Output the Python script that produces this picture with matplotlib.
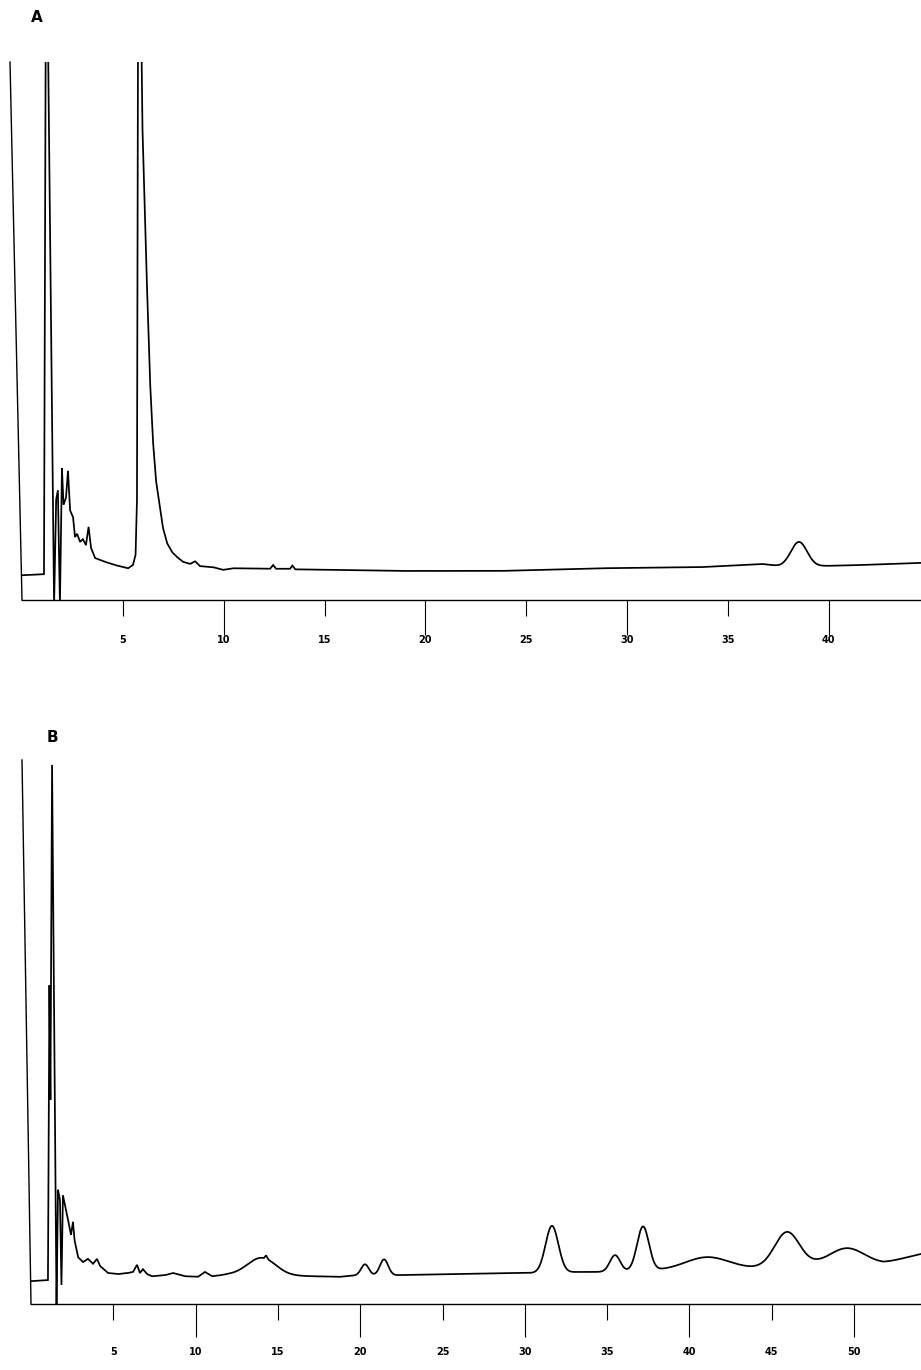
import numpy as np
import matplotlib
matplotlib.use("Agg")
import matplotlib.pyplot as plt

# ---------------- data (minutes, % of full scale) ----------------
a_time = [0.00, 1.09, 1.17, 1.29, 1.59, 1.69, 1.78, 1.88, 1.98, 2.06, 2.18, 2.28,
          2.38, 2.53, 2.63, 2.73, 2.88, 3.02, 3.17, 3.30, 3.42, 3.62, 4.11, 4.61,
          5.26, 5.50, 5.63, 5.70, 5.75, 5.92, 5.97, 6.16, 6.35, 6.49, 6.64,
          6.84, 6.99, 7.19, 7.44, 7.68, 7.98, 8.33, 8.58, 8.82, 9.47, 9.97, 10.46,
          12.30, 12.45, 12.60, 13.29, 13.40, 13.55, 18.74, 23.70, 28.66, 33.61,
          36.69, 37.58, 39.41, 41.55, 44.57]
a_signal = [4.6, 4.8, 104, 104, -1.1, 18.6, 20.4, -1.1, 24.5, 17.7, 19.0, 24.0,
            16.7, 15.4, 11.7, 12.3, 10.8, 11.3, 10.2, 13.6, 9.7, 7.8, 7.1, 6.5,
            5.9, 6.5, 8.4, 18.6, 104, 104, 88.0, 62.5, 40.5, 29.7, 22.3,
            17.3, 13.4, 10.6, 8.9, 8.0, 7.1, 6.7, 7.2, 6.3, 6.1, 5.6, 5.9,
            5.8, 6.5, 5.8, 5.8, 6.4, 5.7, 5.4, 5.4, 5.9, 6.1,
            6.7, 6.3, 6.3, 6.5, 6.9]
# Chromatogram A: resolved peaks (retention time, height, sigma)
a_peak_time = [38.52]
a_peak_height = [4.5]
a_peak_sigma = [0.40]

b_time = [0.00, 1.03, 1.12, 1.18, 1.28, 1.40, 1.55, 1.64, 1.76, 1.85, 1.94, 2.19,
          2.43, 2.55, 2.64, 2.86, 3.16, 3.46, 3.77, 4.01, 4.19, 4.68, 5.29, 5.89,
          6.20, 6.44, 6.62, 6.80, 7.05, 7.35, 8.14, 8.63, 9.36, 10.15, 10.57, 11.00,
          11.97, 14.15, 14.28, 14.42, 15.74, 17.13, 18.77, 19.87,
          22.11, 25.46, 29.71, 30.92, 33.35, 34.57, 38.52, 43.80, 47.81, 51.76, 54.07]
b_signal = [4.2, 4.4, 58.6, 37.5, 99.1, 55.9, -0.4, 21.0, 19.1, 3.5, 20.0, 16.4,
            12.7, 15.1, 11.8, 8.6, 7.7, 8.3, 7.4, 8.3, 7.0, 5.7, 5.5, 5.7,
            5.9, 7.2, 5.7, 6.4, 5.5, 5.1, 5.3, 5.7, 5.1, 5.0, 5.9, 5.1,
            5.4, 5.4, 6.0, 5.4, 5.2, 5.1, 5.0, 5.3,
            5.3, 5.5, 5.7, 5.7, 5.9, 5.9, 6.25, 6.6, 7.35, 7.5, 9.2]
# Chromatogram B: resolved peaks
b_peak_time = [14.0, 20.29, 21.45, 31.65, 35.48, 37.18, 41.07, 45.93, 49.57]
b_peak_height = [3.1, 2.0, 2.9, 8.6, 3.0, 8.1, 2.2, 6.25, 2.85]
b_peak_sigma = [0.85, 0.23, 0.25, 0.39, 0.31, 0.36, 1.30, 0.75, 1.03]

a_major = [10, 20, 30, 40]
a_minor = [5, 15, 25, 35]
b_major = [10, 20, 30, 40, 50]
b_minor = [5, 15, 25, 35, 45]

# ---------------- drawing ----------------
W, H = 921, 1370
fig = plt.figure(figsize=(W / 100, H / 100), dpi=100)


def trace(vt, vs, pt, ph, psig, tmax):
    grid = np.union1d(np.linspace(0, tmax, 6000), vt)
    y = np.interp(grid, vt, vs)
    for c, h, s in zip(pt, ph, psig):
        y = y + h * np.exp(-0.5 * ((grid - c) / s) ** 2)
    return grid, y


def panel(rect_px, tmax, vt, vs, pt, ph, psig, major, minor, lean_px,
          major_len, minor_len, major_pad, minor_pad):
    x0, ytop, x1, ybot = rect_px
    ax = fig.add_axes([x0 / W, 1 - ybot / H, (x1 - x0) / W, (ybot - ytop) / H])
    t, y = trace(vt, vs, pt, ph, psig, tmax)
    ax.plot(t, y, color="black", lw=1.25, solid_joinstyle="miter")
    ax.set_xlim(0, tmax)
    ax.set_ylim(0, 100)
    for s in ("top", "right", "left"):
        ax.spines[s].set_visible(False)
    ax.spines["bottom"].set_linewidth(1.0)
    # left vertical line of the recorder trace (slightly leaning in the scan)
    ax.plot([0, -lean_px / (x1 - x0)], [0, 1], transform=ax.transAxes,
            color="black", lw=1.0, clip_on=False)
    ax.set_yticks([])
    ax.set_xticks(major)
    ax.set_xticklabels([str(v) for v in major])
    ax.set_xticks(minor, minor=True)
    ax.set_xticklabels([str(v) for v in minor], minor=True)
    ax.tick_params(axis="x", which="major", direction="out", length=major_len,
                   width=0.8, pad=major_pad, labelsize=7)
    ax.tick_params(axis="x", which="minor", direction="out", length=minor_len,
                   width=0.8, pad=minor_pad, labelsize=7)
    for lab in ax.get_xticklabels(which="both"):
        lab.set_fontweight("bold")
    return ax


axA = panel((22, 62, 921, 600), 44.57, a_time, a_signal, a_peak_time,
            a_peak_height, a_peak_sigma, a_major, a_minor, 12,
            25, 11.5, 0.5, 14.0)
axB = panel((31, 760, 921, 1304), 54.07, b_time, b_signal, b_peak_time,
            b_peak_height, b_peak_sigma, b_major, b_minor, 9,
            23.5, 11.5, 7.5, 19.5)

fig.text(37 / W, 1 - 18 / H, "A", fontsize=11, fontweight="bold",
         ha="center", va="center")
fig.text(52 / W, 1 - 738 / H, "B", fontsize=11, fontweight="bold",
         ha="center", va="center")

fig.savefig("out.png", dpi=100)
